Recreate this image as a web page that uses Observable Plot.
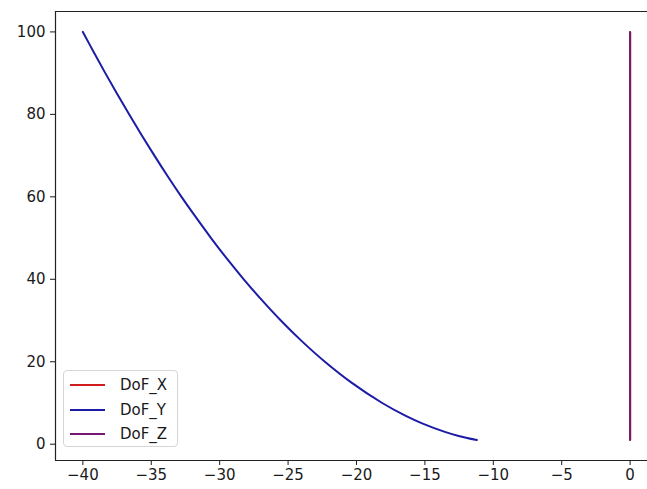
<!DOCTYPE html>
<html><head><meta charset="utf-8">
<script src="https://cdn.jsdelivr.net/npm/d3@7"></script>
<script src="https://cdn.jsdelivr.net/npm/@observablehq/plot@0.6"></script>
<style>
body{margin:0;background:#fff;}
#wrap{position:relative;width:647px;height:489px;overflow:hidden;font-family:"DejaVu Sans",sans-serif;background:#fff;}
#legend{position:absolute;left:63px;top:370px;width:115px;height:77px;border:1px solid #d6d6d6;border-radius:4px;background:rgba(255,255,255,0.8);box-sizing:border-box;}
.row{position:absolute;left:0;width:100%;height:20px;}
.sw{position:absolute;left:6px;top:9px;width:35px;height:2px;}
.lab{position:absolute;left:56px;top:0;line-height:20px;font-size:15px;color:#1a1a1a;}
</style>
</head><body>
<div id="wrap"><div id="chart"></div>
<div id="legend"></div></div>
<script>
// Series data
const seriesNames = ["DoF_X", "DoF_Y", "DoF_Z"];
const seriesColors = ["#d01c1c", "#1c1ca6", "#741874"];
const yLevels = [100, 95, 90, 85, 80, 75, 70, 65, 60, 55, 50, 45, 40, 35, 30, 25, 20, 15, 10, 7, 5, 3, 2, 1];
const dofXValues = [0, 0, 0, 0, 0, 0, 0, 0, 0, 0, 0, 0, 0, 0, 0, 0, 0, 0, 0, 0, 0, 0, 0, 0];
const dofYValues = [-40.00, -39.19, -38.36, -37.50, -36.62, -35.71, -34.77, -33.80, -32.79, -31.73, -30.63, -29.47, -28.24, -26.93, -25.53, -24.00, -22.31, -20.39, -18.12, -16.47, -15.16, -13.54, -12.53, -11.20];
const dofZValues = [0, 0, 0, 0, 0, 0, 0, 0, 0, 0, 0, 0, 0, 0, 0, 0, 0, 0, 0, 0, 0, 0, 0, 0];
const xTicks = [-40, -35, -30, -25, -20, -15, -10, -5, 0];
const yTicks = [0, 20, 40, 60, 80, 100];

const allSeries = [dofXValues, dofYValues, dofZValues];
const rows = [];
allSeries.forEach((vals, si) => {
  vals.forEach((x, i) => rows.push({series: seriesNames[si], x, y: yLevels[i]}));
});

const xDomain = [-42, 1.27];
const yDomain = [-3.95, 104.95];
const fmt = d => d < 0 ? "\u2212" + (-d) : String(d);

const chart = Plot.plot({
  width: 647, height: 489,
  marginLeft: 55, marginRight: 0, marginTop: 11, marginBottom: 29,
  style: {fontFamily: "DejaVu Sans", fontSize: "15px", color: "#1a1a1a", background: "white"},
  x: {domain: xDomain, ticks: xTicks, tickFormat: fmt, tickSize: 5, tickPadding: 4, label: null},
  y: {domain: yDomain, ticks: yTicks, tickFormat: fmt, tickSize: 5, tickPadding: 5, label: null},
  marks: [
    Plot.line(rows.filter(d => d.series === "DoF_X"), {x: "x", y: "y", stroke: seriesColors[0], strokeWidth: 2}),
    Plot.line(rows.filter(d => d.series === "DoF_Y"), {x: "x", y: "y", stroke: seriesColors[1], strokeWidth: 2, curve: "catmull-rom"}),
    Plot.line(rows.filter(d => d.series === "DoF_Z"), {x: "x", y: "y", stroke: seriesColors[2], strokeWidth: 2}),
    Plot.ruleX([xDomain[0]], {stroke: "#222", strokeWidth: 1.2}),
    Plot.ruleY([yDomain[0], yDomain[1]], {stroke: "#222", strokeWidth: 1.2})
  ]
});
document.getElementById("chart").appendChild(chart);

const legend = document.getElementById("legend");
seriesNames.forEach((name, i) => {
  const row = document.createElement("div");
  row.className = "row";
  row.style.top = (4 + i * 24.5) + "px";
  const sw = document.createElement("div");
  sw.className = "sw";
  sw.style.background = seriesColors[i];
  const lab = document.createElement("div");
  lab.className = "lab";
  lab.textContent = name;
  row.appendChild(sw); row.appendChild(lab);
  legend.appendChild(row);
});
</script>
</body></html>
